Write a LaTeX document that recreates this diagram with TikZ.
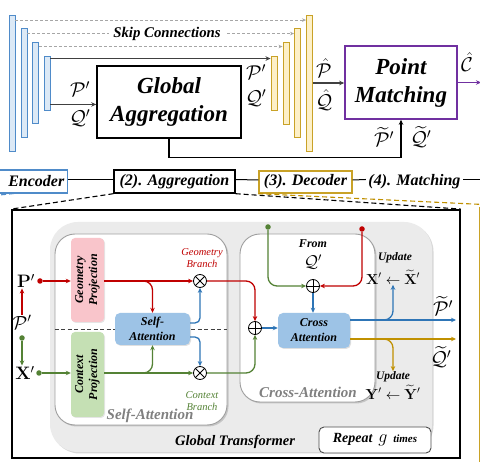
\RequirePackage{fix-cm}
\documentclass[tikz,border=0pt]{standalone}
\usepackage{amsmath}
\usepackage[no-math]{fontspec}
\setmainfont{Liberation Serif}
\usetikzlibrary{arrows.meta,shadows,calc}
\definecolor{encblue}{HTML}{4F8BC9}
\definecolor{encfill}{HTML}{DCE9F6}
\definecolor{decgold}{HTML}{C9A227}
\definecolor{decfill}{HTML}{FDF0C8}
\definecolor{gold}{HTML}{C09000}
\definecolor{mpurple}{HTML}{7030A0}
\definecolor{rred}{HTML}{C00000}
\definecolor{ggreen}{HTML}{548235}
\definecolor{bblue}{HTML}{2E75B6}
\definecolor{sablue}{HTML}{9DC3E6}
\definecolor{pinkf}{HTML}{F9C5CB}
\definecolor{greenf}{HTML}{C5E0B4}
\definecolor{gtgray}{HTML}{EBEBEB}
\newcommand{\fs}[2]{\fontsize{#1}{#2}\selectfont}
\begin{document}
\begin{tikzpicture}[x=1pt,y=-1pt,>={Stealth[length=5pt,width=4.5pt]},
  bar/.style={draw, line width=0.9pt, minimum width=6, inner sep=0},
  encbar/.style={bar, draw=encblue, fill=encfill},
  decbar/.style={bar, draw=decgold, fill=decfill},
  skip/.style={draw=gray!70, dashed, line width=0.8pt, dash pattern=on 3pt off 2pt},
  dline/.style={draw=black!75, line width=1.1pt},
  bigbox/.style={line width=1.6pt, fill=white, align=center, font=\fs{23}{28}\bfseries\itshape},
  stage/.style={line width=1.4pt, inner sep=2pt, font=\fs{16}{18}\bfseries\itshape},
  thinl/.style={line width=1pt, black},
  zdash/.style={dashed, dash pattern=on 5pt off 3pt, line width=1.1pt},
  block/.style={draw=gray!75, fill=white, rounded corners=20, line width=0.9pt,
     drop shadow={opacity=0.35, shadow xshift=1.5pt, shadow yshift=-1.5pt}},
  projbox/.style={rounded corners=4, minimum width=33, inner sep=0,
     drop shadow={opacity=0.2, shadow xshift=1pt, shadow yshift=-1pt}},
  attbox/.style={fill=sablue, rounded corners=5, inner sep=0, align=center,
     font=\fs{12}{15}\bfseries\itshape,
     drop shadow={opacity=0.25, shadow xshift=1pt, shadow yshift=-1pt}},
  opc/.style={circle, draw, fill=white, minimum size=13, inner sep=0, line width=0.8pt},
  rflow/.style={draw=rred, line width=1.3pt},
  gflow/.style={draw=ggreen, line width=1.3pt},
  bflow/.style={draw=bblue, line width=1.3pt},
  goflow/.style={draw=gold, line width=1.3pt},
  rdot/.style={circle, fill=rred, minimum size=5.5, inner sep=0},
  gdot/.style={circle, fill=ggreen, minimum size=5.5, inner sep=0},
  mlab/.style={inner sep=0.5pt, font=\fs{20}{22}},
  ulab/.style={inner sep=0.5pt, font=\fs{11.5}{13}\bfseries\itshape}
]
\clip (0,0) rectangle (480,462);
\fill[white] (0,0) rectangle (480,462);

% ---------- top: encoder / decoder bars ----------
\node[encbar, minimum height=136] (e1) at (12,83) {};
\node[encbar, minimum height=109] (e2) at (24,82.5) {};
\node[encbar, minimum height=81] (e3) at (35.5,82.5) {};
\node[encbar, minimum height=54] (e4) at (47,83) {};
\node[decbar, minimum height=54] (d1) at (274,83) {};
\node[decbar, minimum height=82] (d2) at (286,83) {};
\node[decbar, minimum height=109] (d3) at (297.5,82.5) {};
\node[decbar, minimum height=136] (d4) at (309.5,83) {};

\coordinate (s1) at ([yshift=-5.5pt]e1.north east);
\coordinate (s2) at ([yshift=-6pt]e2.north east);
\coordinate (s3) at ([yshift=-5pt]e3.north east);
\draw[skip,-{Stealth[length=4pt,width=3.5pt]}] (s1) -- (s1 -| d4.west);
\draw[skip,-{Stealth[length=4pt,width=3.5pt]}] (s2) -- (s2 -| d3.west);
\draw[skip,-{Stealth[length=4pt,width=3.5pt]}] (s3) -- (s3 -| d2.west);
\node[fill=white, inner xsep=4pt, inner ysep=1pt, font=\fs{14.8}{16}\bfseries\itshape] (skl) at (167,34) {Skip Connections};

\node[bigbox, draw=black, minimum width=144, minimum height=72] (ga) at (169,102) {Global\\Aggregation};
\node[bigbox, draw=mpurple, minimum width=112, minimum height=73] (pm) at (401,82.5) {Point\\Matching};

\coordinate (s4) at ([yshift=-3pt]e4.north east);
\draw[dline,->] (s4) -- (s4 -| d1.west);
\coordinate (s5) at ([yshift=6pt]e4.south east);
\draw[dline,->] (s5) -- (s5 -| ga.west);
\draw[dline,->] (d4.east) -- (d4.east -| pm.west);
\coordinate (cout) at (481,82.5);
\draw[mpurple, line width=1.8pt, ->] (pm.east) -- (cout);
\draw[black, line width=1.3pt, ->] (ga.south) -- ++(0,19) -| (pm.south);

\node[mlab] (lp1) at (80,89) {$\mathcal{P}'$};
\node[mlab] (lq1) at (80,118) {$\mathcal{Q}'$};
\node[mlab] (lp2) at (256,72) {$\mathcal{P}'$};
\node[mlab] (lq2) at (256,98) {$\mathcal{Q}'$};
\node[mlab] (lp3) at (324,68) {$\hat{\mathcal{P}}$};
\node[mlab] (lq3) at (324,100) {$\hat{\mathcal{Q}}$};
\node[mlab] (lc) at (467,62) {$\hat{\mathcal{C}}$};
\node[mlab] (lp4) at (384,137) {$\widetilde{\mathcal{P}}'$};
\node[mlab] (lq4) at (421,137) {$\widetilde{\mathcal{Q}}'$};

% ---------- stage row ----------
\node[stage, draw=encblue, anchor=east, text width=90, align=right, minimum height=23, inner xsep=3pt] (enc) at (68,181.5) {Encoder};
\node[stage, draw=black, minimum width=121, minimum height=23] (agg) at (174.5,181.5) {(2). Aggregation};
\node[stage, draw=decgold, minimum width=93, minimum height=22] (dec) at (305.5,182) {(3). Decoder};
\node[stage, draw=none] (mat) at (414.5,181.5) {(4). Matching};
\coordinate (rowend) at (481,179.5);
\draw[thinl] ([yshift=2pt]enc.east) -- ([yshift=2pt]agg.west);
\draw[thinl] ([yshift=2pt]agg.east) -- ([yshift=2pt]dec.west);
\draw[thinl] ([yshift=2pt]dec.east) -- ([yshift=2pt]mat.west);
\draw[thinl] ([yshift=2pt]mat.east) -- (rowend);
\coordinate (encd) at (-10,196);
\draw[encblue, zdash] (14,193.5) -- (encd);

% ---------- zoom frame ----------
\node[draw, line width=1.8pt, minimum width=448, minimum height=248, inner sep=0] (fr) at (236,334) {};
\draw[zdash] (agg.south west) -- (fr.north west);
\draw[zdash] (agg.south east) -- (fr.north east);
\coordinate (gdc) at (483,204.5);
\draw[gold, zdash] (dec.south west) -- (gdc);
\coordinate (gv1) at (479.5,207);
\coordinate (gv2) at (479.5,463);
\draw[decgold, line width=1.2pt] (gv1) -- (gv2);

% global transformer background
\node[fill=gtgray, rounded corners=28, minimum width=382, minimum height=230, inner sep=0,
   drop shadow={opacity=0.3, shadow xshift=1.5pt, shadow yshift=-1.5pt}] (gt) at (241,337) {};
\node[font=\fs{14.5}{16}\bfseries\itshape] (gtl) at (235,442) {Global Transformer};
\node[draw=black!70, fill=white, rounded corners=5, line width=0.9pt, minimum width=112, minimum height=26, inner sep=0] (rep) at (375,440) {\fs{14}{16}\bfseries\itshape Repeat\, {\fs{18}{18}$g$}\, {\fs{11}{13}times}};

% blocks
\node[block, minimum width=172, minimum height=191] (sab) at (141,329.5) {};
\node[block, minimum width=135, minimum height=168] (cab) at (307.5,318) {};
\node[font=\fs{15}{17}\bfseries\itshape, text=gray] (sabl) at (150,416) {Self-Attention};
\node[font=\fs{15}{17}\bfseries\itshape, text=gray] (cabl) at (308,392) {Cross-Attention};

\draw[dashed, dash pattern=on 4pt off 2.5pt, line width=1.1pt, black!75] (sab.west) -- (sab.east);

\node[projbox, fill=pinkf, minimum height=84] (gp) at (87.5,280) {};
\node[rotate=90, align=center, font=\fs{12}{14}\bfseries\itshape] (gpt) at (gp) {Geometry\\Projection};
\node[projbox, fill=greenf, minimum height=85] (cp) at (87.5,374.5) {};
\node[rotate=90, align=center, font=\fs{12}{14}\bfseries\itshape] (cpt) at (cp) {Context\\Projection};

\node[attbox, minimum width=75, minimum height=32] (sa) at (152.5,329) {Self-\\Attention};
\node[attbox, minimum width=72, minimum height=35] (ca) at (314,330.5) {Cross\\Attention};

\node[opc] (mg) at (200,281) {};
\draw[line width=0.8pt] (mg.north west) -- (mg.south east) (mg.north east) -- (mg.south west);
\node[opc] (mc) at (200,373) {};
\draw[line width=0.8pt] (mc.north west) -- (mc.south east) (mc.north east) -- (mc.south west);
\node[opc] (pa) at (255,328) {};
\draw[line width=0.8pt] (pa.north) -- (pa.south) (pa.west) -- (pa.east);
\node[opc] (pb) at (313,286) {};
\draw[line width=0.8pt] (pb.north) -- (pb.south) (pb.west) -- (pb.east);

% left inputs
\node[mlab, font=\fs{18}{20}] (Pb) at (26,281) {$\mathbf{P}'$};
\node[rdot] (rd1) at (40,281) {};
\node[mlab, font=\fs{19}{20}] (cP) at (22,322) {$\mathcal{P}'$};
\node[gdot] (gd1) at (22,338) {};
\node[mlab, font=\fs{18}{20}] (Xb) at (25,373) {$\mathbf{X}'$};
\node[gdot] (gd2) at (39,373) {};
\draw[rflow,->] ([yshift=-1pt]cP.north) -- (cP.north |- Pb.south);
\draw[gflow,->] (gd1) -- (gd1 |- Xb.north);
\draw[rflow,->] (rd1) -- (rd1 -| gp.west);
\draw[gflow,->] (gd2) -- (gd2 -| cp.west);

% self-attention flows
\draw[rflow,->] (gp.east |- mg.west) -- (mg.west);
\draw[rflow,->,rounded corners=9] (gp.east |- mg.west) -| (sa.north);
\draw[gflow,->] (cp.east |- mc.west) -- (mc.west);
\draw[gflow,->,rounded corners=9] (cp.east |- mc.west) -| (sa.south);
\coordinate (sau) at ([yshift=6pt]sa.east);
\coordinate (sal) at ([yshift=-8pt]sa.east);
\draw[bflow,->,rounded corners=5] (sau) -| (mg.south);
\draw[bflow,->,rounded corners=5] (sal) -| (mc.north);
\node[align=center, text=rred, font=\fs{10.5}{11.5}\itshape] (gbl) at (202,258) {Geometry\\Branch};
\node[align=center, text=ggreen, font=\fs{10.5}{11.5}\itshape] (cbl) at (202,401) {Context\\Branch};

% to cross attention
\draw[rflow,->,rounded corners=9] (mg.east) -| (pa.north);
\draw[gflow,->,rounded corners=9] (mc.east) -| (pa.south);
\draw[bflow,->] (pa.east) -- (pa.east -| ca.west);
\node[gdot] (gd3) at (268,227) {};
\node[rdot] (rd3) at (362,229) {};
\draw[gflow,->,rounded corners=9] (gd3) |- (pb.west);
\draw[rflow,->,rounded corners=9] (rd3) |- (pb.east);
\draw[bflow,->] (pb.south) -- (pb.south |- ca.north);
\node[font=\fs{12}{13}\bfseries\itshape] (froml) at (313,244) {From};
\node[mlab, font=\fs{17}{18}] (fromq) at (313,262) {$\mathcal{Q}'$};

% outputs
\node[ulab] (upx) at (395,258) {Update};
\node[mlab, font=\fs{14.5}{16}] (xup) at (393,277) {$\mathbf{X}'\leftarrow\widetilde{\mathbf{X}}'$};
\node[ulab] (upy) at (393,377) {Update};
\node[mlab, font=\fs{14.5}{16}] (yup) at (393,392) {$\mathbf{Y}'\leftarrow\widetilde{\mathbf{Y}}'$};
\node[mlab] (lpt) at (443,306) {$\widetilde{\mathcal{P}}'$};
\node[mlab] (lqt) at (441,357) {$\widetilde{\mathcal{Q}}'$};
\coordinate (cau) at ([yshift=10.5pt]ca.east);
\coordinate (cal) at ([yshift=-8.5pt]ca.east);
\coordinate (bout) at (456,320);
\coordinate (yout) at (456,339);
\draw[bflow,->] (cau) -- (bout);
\draw[bflow,->,rounded corners=9] (cau) -| (xup.south);
\draw[goflow,->] (cal) -- (yout);
\draw[goflow,->,rounded corners=9] (cal) -| (upy.north);
\end{tikzpicture}
\end{document}
